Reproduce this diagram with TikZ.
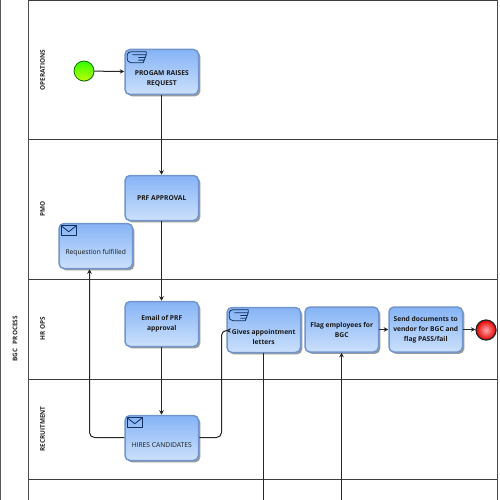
\documentclass[tikz,border=0pt]{standalone}
\usepackage{fontspec}
\setmainfont{Open Sans}
\usetikzlibrary{arrows.meta,shadows,calc}
\definecolor{taskline}{HTML}{7296CC}
\definecolor{tasktop}{HTML}{86B4F6}
\definecolor{taskbot}{HTML}{CBE0FB}
\definecolor{icon}{HTML}{12305E}
\definecolor{lane}{HTML}{3C3C3C}
\newcommand{\iconroom}{\rule{0pt}{9pt}\\}
\tikzset{
  x=1pt,y=-1pt,
  lanerule/.style={draw=lane,line width=0.8pt},
  lanelabel/.style={rotate=90,font=\bfseries\fontsize{6.4}{7}\selectfont,text=black!85,inner sep=0pt},
  taskbox/.style={rectangle,rounded corners=5pt,draw=taskline,line width=1.5pt,top color=tasktop,bottom color=taskbot,
    minimum width=73.5pt,minimum height=45pt,inner sep=0pt,align=center,text=black!90,
    drop shadow={shadow xshift=1.8pt,shadow yshift=-1.8pt,fill=black!65,opacity=0.6}},
  boldtext/.style={font=\bfseries\fontsize{6.7}{10}\selectfont},
  plaintext/.style={font=\fontsize{6.7}{10}\selectfont},
  flow/.style={draw=black!85,line width=1pt,-{Stealth[length=4.5pt,width=4.5pt]},rounded corners=5pt},
  iconline/.style={draw=icon,line width=0.8pt,fill=none,line join=round},
}
\newcommand{\mailicon}[1]{\draw[iconline] ($(#1.north west)+(3,3)$) rectangle ($(#1.north west)+(18,13)$);
  \draw[iconline] ($(#1.north west)+(3,3)$) -- ($(#1.north west)+(10.5,9)$) -- ($(#1.north west)+(18,3)$);}
\newcommand{\handicon}[1]{\begin{scope}[shift={(#1.north west)}]
  \draw[iconline] (3,6) .. controls (3,4) and (5,3) .. (7,3) -- (22,3) -- (22,6) -- (14,6)
    (22,6) -- (21,8.7) -- (14,8.7) (21,8.7) -- (20,11.4) -- (14,11.4) (20,11.4) -- (19,14) -- (7,14)
    .. controls (4,14) and (3,12) .. (3,10) -- (3,6) (8,6) -- (14,6);
\end{scope}}
\begin{document}
\begin{tikzpicture}
\useasboundingbox (0,0) rectangle (500,500);
\fill[white] (0,0) rectangle (500,500);
% pool and lanes
\draw[lanerule,line width=1.2pt,draw=black!65] (0.5,0) -- (0.5,500);
\draw[lanerule,draw=black!70] (28.5,0) -- (28.5,500);
\draw[lanerule] (28.5,0.5) -- (497,0.5);
\draw[lanerule,draw=black!70] (497,0) -- (497,500);
\foreach \yy in {139,279,379,479}{\draw[lanerule] (28.5,\yy) -- (497,\yy);}
\node[lanelabel] (pool) at (15,339) {BGC\hspace{3pt} PROCESS};
\node[lanelabel] (ops) at (42.5,70) {OPERATIONS};
\node[lanelabel] (pmo) at (42.5,209) {PMO};
\node[lanelabel] (hr) at (42.5,329) {HR OPS};
\node[lanelabel] (rec) at (42.5,429) {RECRUITMENT};
% events
\node[circle,minimum size=20pt,inner sep=0pt,draw=black!60!green,line width=0.7pt,top color=green!80!yellow,bottom color=yellow!75!green,
  drop shadow={shadow xshift=0.8pt,shadow yshift=-0.8pt,fill=black!50,opacity=0.4}] (start) at (84,71) {};
\node[circle,minimum size=20pt,inner sep=0pt,draw=black!85,line width=1.2pt,inner color=red!35!white,outer color=red!90!black,
  drop shadow={shadow xshift=0.8pt,shadow yshift=-0.8pt,fill=black!50,opacity=0.4}] (end) at (486,330) {};
% tasks
\node[taskbox,boldtext] (prog) at (161.75,72) {\iconroom PROGAM RAISES\\REQUEST};
\node[taskbox,boldtext] (prf) at (161.75,198) {PRF APPROVAL};
\node[taskbox,plaintext] (req) at (95.75,246) {\iconroom Requestion fulfilled};
\node[taskbox,boldtext] (email) at (161.75,324) {Email of PRF\\approval};
\node[taskbox,boldtext] (give) at (263.75,330) {\iconroom Gives appointment\\letters};
\node[taskbox,boldtext] (flag) at (341.75,329.5) {Flag employees for\\BGC};
\node[taskbox,boldtext] (send) at (425.75,329.5) {Send documents to\\vendor for BGC and\\flag PASS/fail};
\node[taskbox,plaintext] (hire) at (161.75,438) {\iconroom HIRES CANDIDATES};
\mailicon{req}
\mailicon{hire}
\handicon{prog}
\handicon{give}
% free ends at the picture edge
\coordinate (giveout) at (263.5,500);
\coordinate (flagin) at (341.5,500);
% connectors
\draw[flow] (start) -- (prog);
\draw[flow] (prog.south -| 161.5,0) -- (prf.north -| 161.5,0);
\draw[flow] (prf.south -| 161.5,0) -- (email.north -| 161.5,0);
\draw[flow] (email.south -| 161.5,0) -- (hire.north -| 161.5,0);
\draw[flow] (hire.west |- 0,437.5) -- (89.5,437.5) -- (req.south -| 89.5,0);
\draw[flow] (hire.east |- 0,437.5) -- (221.5,437.5) -- (221.5,330.5) -- (give.west |- 0,330.5);
\draw[flow,-] (give.south -| giveout) -- (giveout);
\draw[flow] (flagin) -- (flag.south -| flagin);
\draw[flow] (flag.east |- 0,329.5) -- (send.west |- 0,329.5);
\draw[flow] (send.east |- 0,329.5) -- (end.west |- 0,329.5);
\end{tikzpicture}
\end{document}
